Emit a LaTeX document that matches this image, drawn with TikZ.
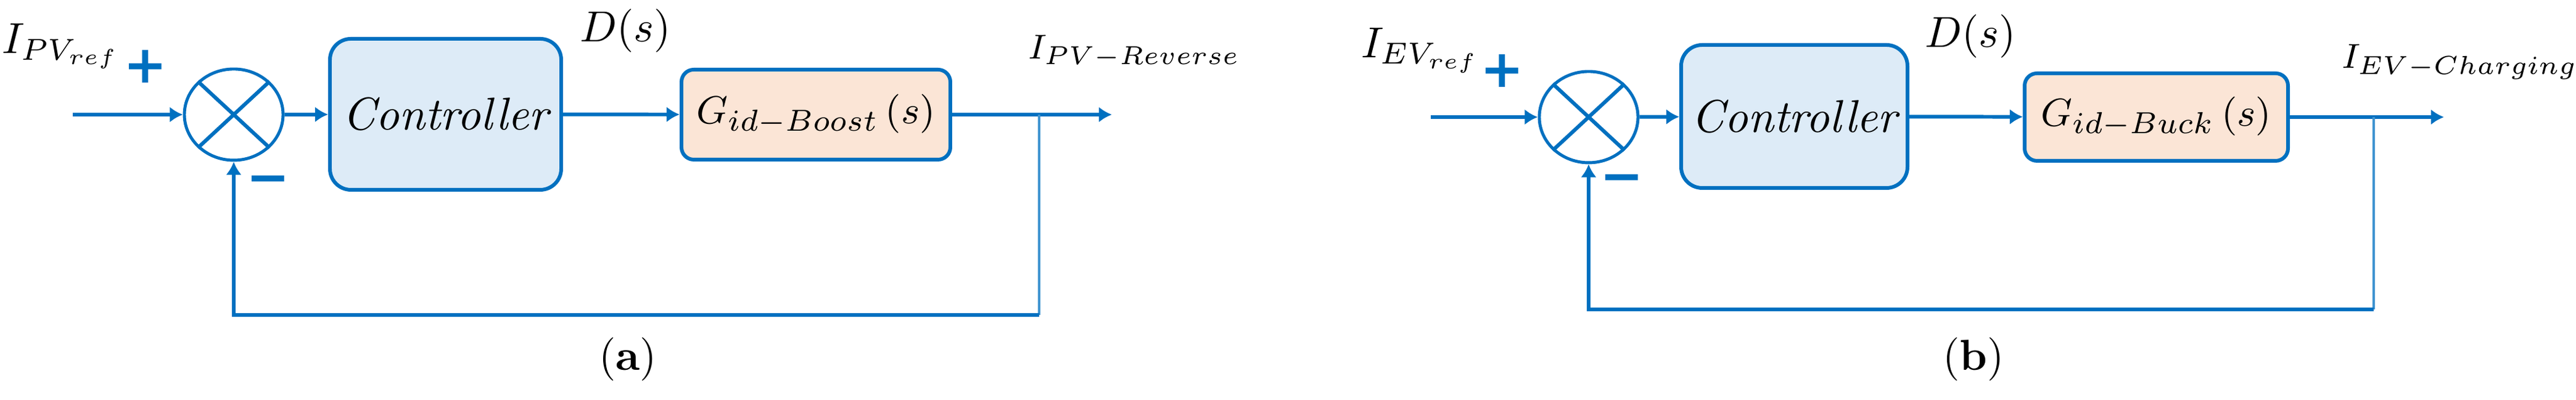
\documentclass[tikz,border=0pt]{standalone}
\usepackage{fontspec}
\usepackage{amsmath}
\usepackage{xcolor}
\usepackage{tikz}
\usetikzlibrary{shapes,arrows.meta}
\newfontfamily\signfont{DejaVu Sans}
\definecolor{lineblue}{RGB}{0,112,192}
\definecolor{ctrlfill}{RGB}{221,235,247}
\definecolor{plantfill}{RGB}{251,229,214}

\begin{document}
\begin{tikzpicture}[ctrlbox/.style={draw=lineblue, line width=0.85pt, fill=ctrlfill, rounded corners=0.17cm, font=\fontsize{10.6pt}{12pt}\selectfont\itshape, inner sep=0},
plantbox/.style={draw=lineblue, line width=0.85pt, fill=plantfill, rounded corners=0.1cm, font=\fontsize{9.4pt}{11pt}\selectfont, inner sep=0},
sumnode/.style={draw=lineblue, line width=0.7pt, ellipse, fill=white, inner sep=0, minimum width=0.8cm, minimum height=0.74cm},
sign/.style={text=lineblue, font={\signfont\fontsize{12pt}{12pt}\selectfont\bfseries}, inner sep=0},
outtext/.style={anchor=west, inner sep=0, font=\fontsize{8pt}{10pt}\selectfont},
wire/.style={draw=lineblue, line width=0.85pt},
thinwire/.style={draw=lineblue!75, line width=0.55pt},
arr/.style={wire, -{Latex[length=3pt,width=3.6pt]}}]
\useasboundingbox (0,0) rectangle (20.885,3.245);
%(a)
\coordinate (in1) at (0.59,2.315);
\node[sumnode] (sum1) at (1.895,2.315) {};
\node[ctrlbox, minimum width=1.875cm, minimum height=1.225cm] (ctrl1) at (3.6125,2.3175) {Controller};
\node[plantbox, minimum width=2.18cm, minimum height=0.73cm] (plant1) at (6.615,2.315) {$G_{id-Boost}\,(s)$};
\coordinate (br1) at (8.425,2.315);
\coordinate (out1) at (9.015,2.315);
\coordinate (fb1) at (8.425,0.69);
\node (ref1) at (0.495,2.87) {$I_{PV_{ref}}$};
\node[sign] (p1) at (1.18,2.705) {+};
\node[sign] (m1) at (2.175,1.74) {−};
\node (d1) at (5.07,2.995) {$D(s)$};
\node[outtext] (y1) at (8.33,2.825) {$I_{PV-Reverse}$};
\node (cap1) at (5.09,0.33) {(\textbf{a})};
\draw [wire] (sum1.north west) -- (sum1.south east);
\draw [wire] (sum1.north east) -- (sum1.south west);
\draw [arr] (in1) -- (sum1);
\draw [arr] (sum1) -- (ctrl1);
\draw [arr] (ctrl1) -- (plant1);
\draw [arr] (plant1) -- (out1);
\draw [thinwire] (br1) -- (fb1);
\draw [arr] (fb1) -| (sum1.south);
%(b)
\coordinate (in2) at (11.6,2.295);
\node[sumnode] (sum2) at (12.88,2.295) {};
\node[ctrlbox, minimum width=1.835cm, minimum height=1.16cm] (ctrl2) at (14.5475,2.3) {Controller};
\node[plantbox, minimum width=2.135cm, minimum height=0.71cm] (plant2) at (17.4825,2.295) {$G_{id-Buck}\,(s)$};
\coordinate (br2) at (19.245,2.295);
\coordinate (out2) at (19.815,2.295);
\coordinate (fb2) at (19.245,0.735);
\node (ref2) at (11.5175,2.8375) {$I_{EV_{ref}}$};
\node[sign] (p2) at (12.18,2.67) {+};
\node[sign] (m2) at (13.15,1.75) {−};
\node (d2) at (15.975,2.95) {$D(s)$};
\node[outtext] (y2) at (18.98,2.745) {$I_{EV-Charging}$};
\node (cap2) at (16.0,0.33) {(\textbf{b})};
\draw [wire] (sum2.north west) -- (sum2.south east);
\draw [wire] (sum2.north east) -- (sum2.south west);
\draw [arr] (in2) -- (sum2);
\draw [arr] (sum2) -- (ctrl2);
\draw [arr] (ctrl2) -- (plant2);
\draw [arr] (plant2) -- (out2);
\draw [thinwire] (br2) -- (fb2);
\draw [arr] (fb2) -| (sum2.south);
\end{tikzpicture}
\end{document}
